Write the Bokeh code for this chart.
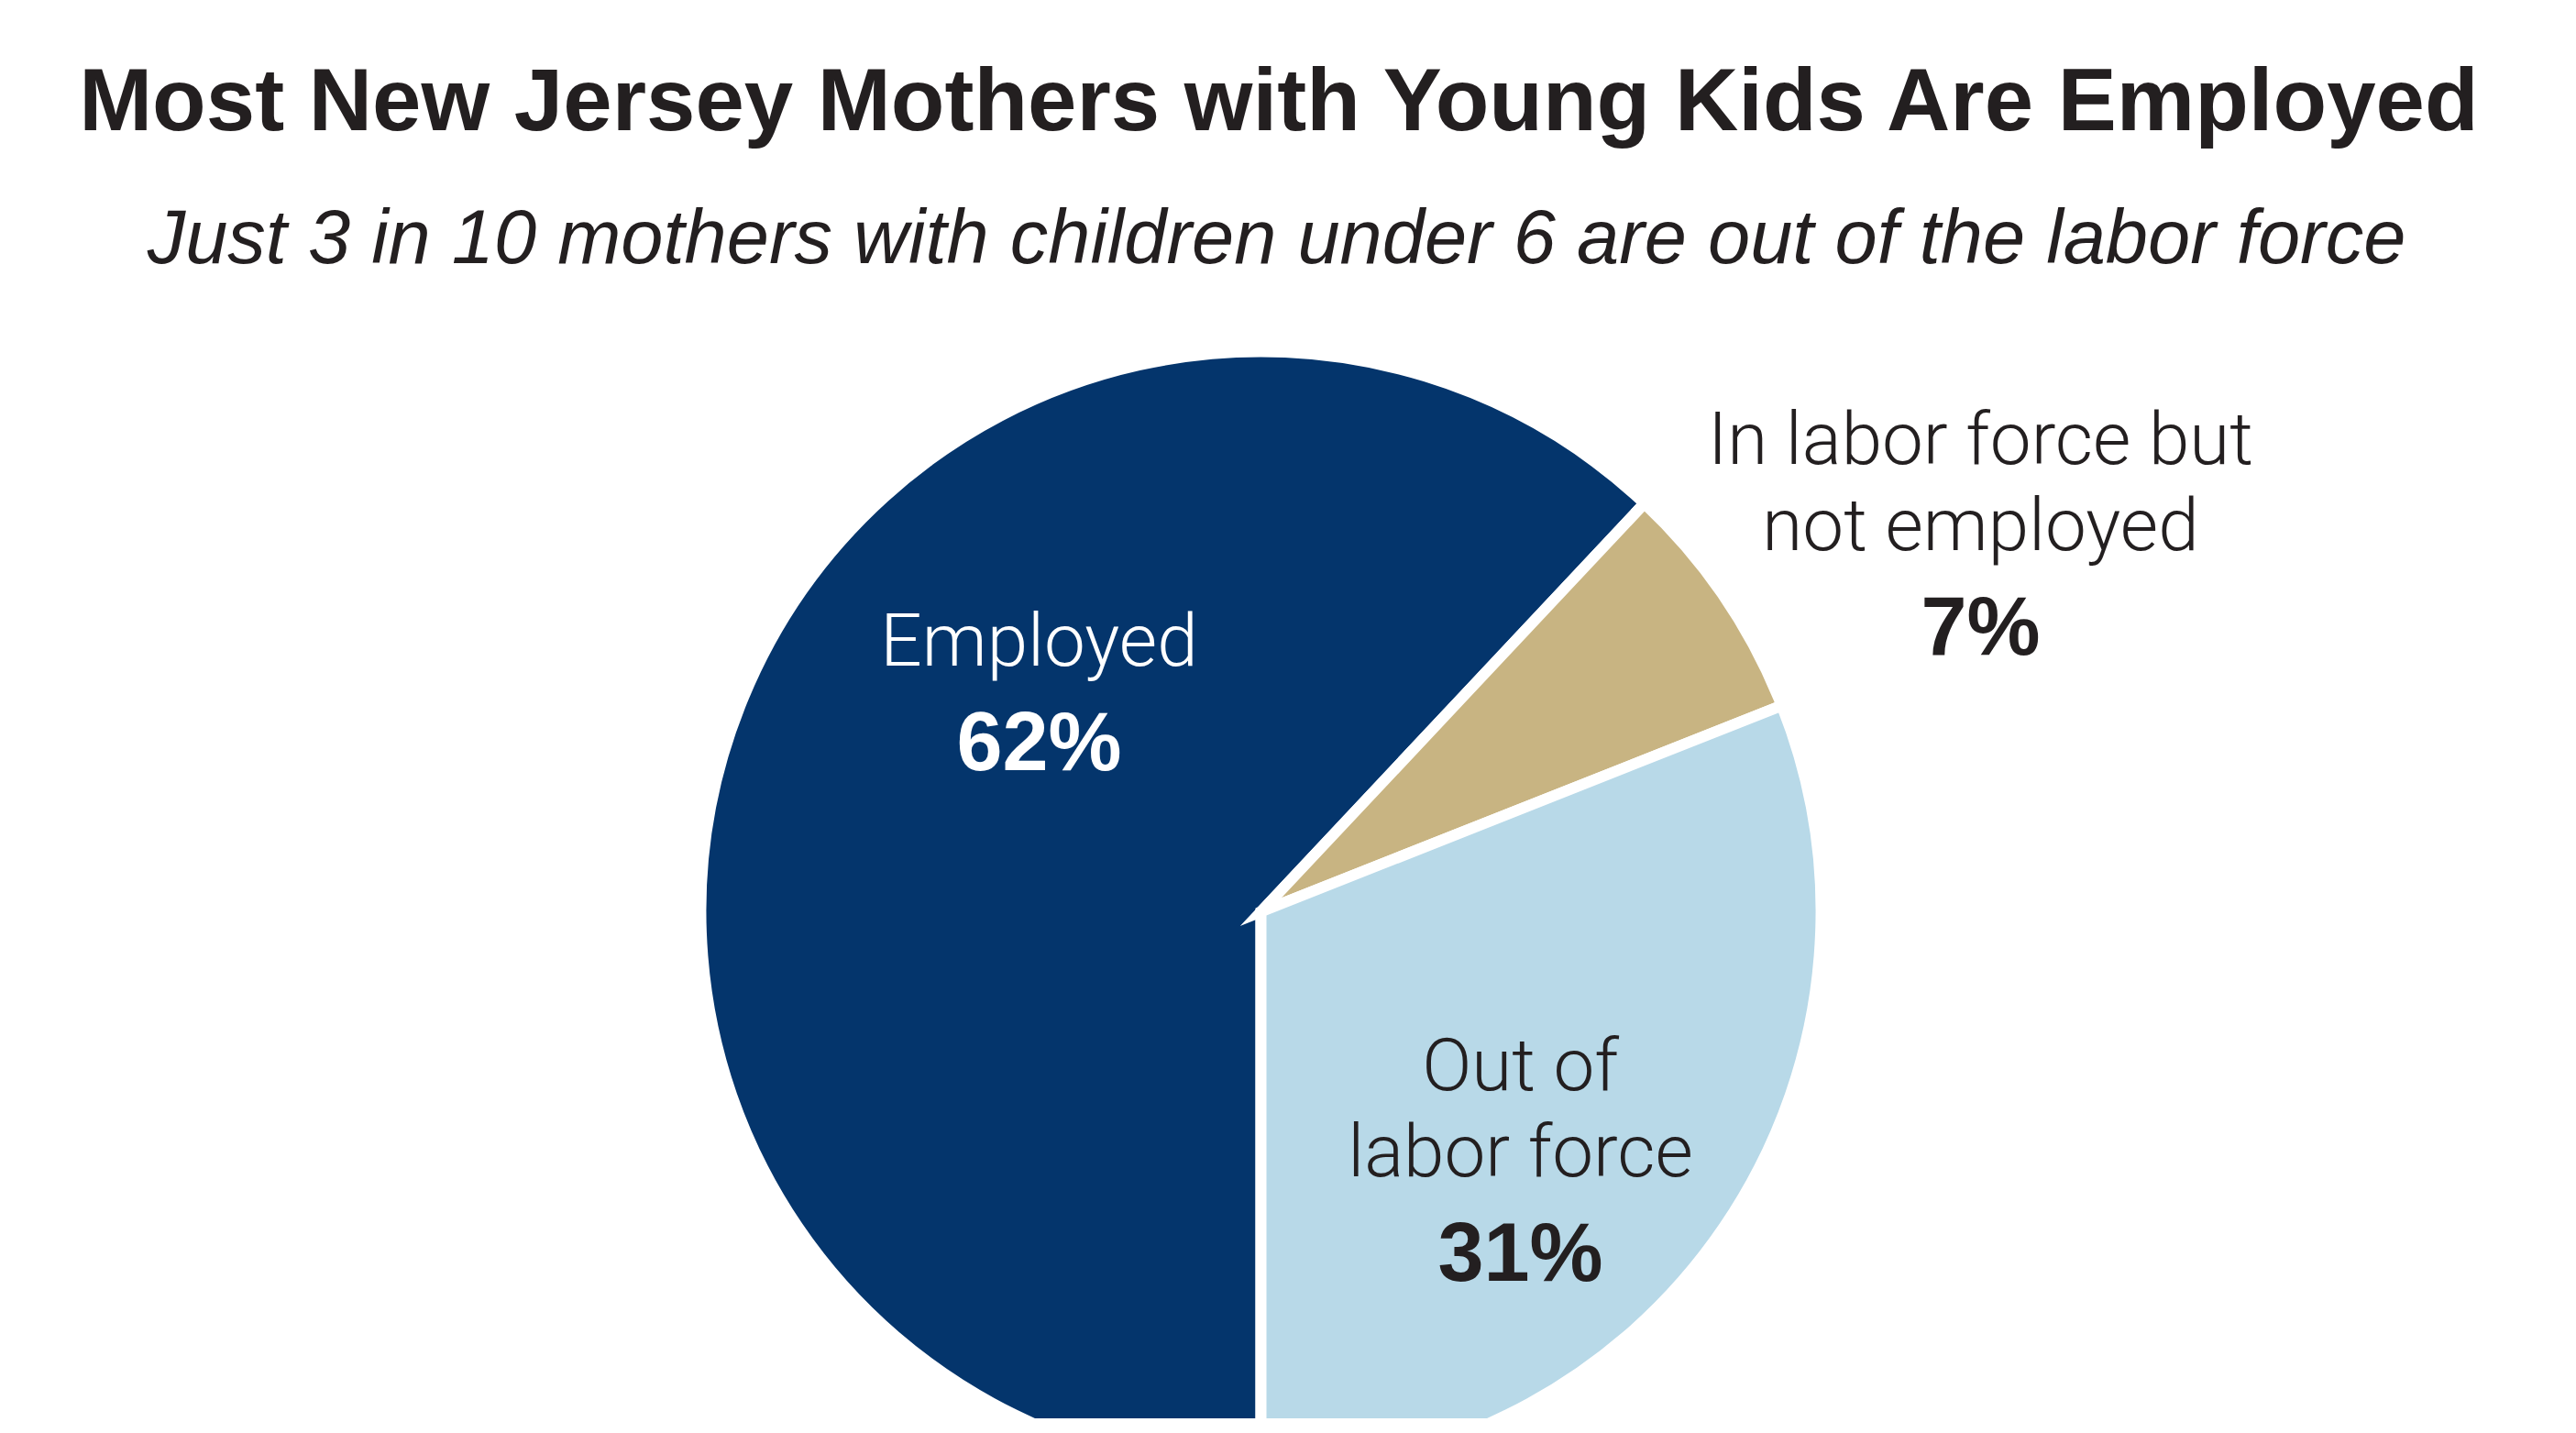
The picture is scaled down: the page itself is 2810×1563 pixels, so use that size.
import numpy as np
from bokeh.plotting import figure
from bokeh.models import ColumnDataSource, Range1d
from bokeh.core.properties import value
from bokeh.embed import file_html
from bokeh.resources import INLINE

# ---- data ----
categories = ["Employed", "In labor force but not employed", "Out of labor force"]
shares = [62, 7, 31]
pct_labels = ["62%", "7%", "31%"]
name_lines = [["Employed"], ["In labor force but", "not employed"], ["Out of", "labor force"]]
title_text = "Most New Jersey Mothers with Young Kids Are Employed"
subtitle_text = "Just 3 in 10 mothers with children under 6 are out of the labor force"

# ---- style / layout ----
colors = ["#04356C", "#C8B482", "#B8D9E8"]
text_dark = "#231F20"
W, H = 2794, 1547
TXT_SHIFT = -21  # page-pixel correction for text baseline placement


def py(img_y):
    # convert a page y coordinate (top-down) to plot data y
    return H - (img_y - 8)


def px(img_x):
    return img_x - 8


p = figure(width=W, height=H, x_range=Range1d(0, W), y_range=Range1d(0, H),
           output_backend="svg", toolbar_location=None, min_border=0,
           x_axis_location=None, y_axis_location=None)
p.grid.visible = False
p.outline_line_color = None
p.background_fill_color = "white"
p.border_fill_color = "white"

# pie
cx, cy = px(1383), py(1002)
frac = np.array(shares, dtype=float) / sum(shares)
cum = np.concatenate([[0], np.cumsum(frac)[:-1]])
start = np.deg2rad(270 - 360 * cum)
end = np.deg2rad(270 - 360 * (cum + frac))
src = ColumnDataSource(dict(cat=categories, start=start, end=end, color=colors))
p.wedge(x=cx, y=cy, radius=611, start_angle="start", end_angle="end",
        direction="clock", fill_color="color", line_color="white",
        line_width=12, line_join="miter", source=src)

# title & subtitle
p.text(x=[px(1405)], y=[py(137 + TXT_SHIFT)], text=[title_text], text_align="center",
       text_baseline="alphabetic", text_font=value("Liberation Sans"),
       text_font_style="bold", text_font_size="96px", text_color=text_dark)
p.text(x=[px(1400)], y=[py(287 + TXT_SHIFT)], text=[subtitle_text], text_align="center",
       text_baseline="alphabetic", text_font=value("Liberation Sans"),
       text_font_style="italic", text_font_size="83px", text_color=text_dark)

# slice labels
label_pos = [(1141, 727), (2168, 507), (1666, 1190)]
label_colors = ["white", text_dark, text_dark]
line_gap = 94
pct_gap = 110
lx, ly, lt, lc = [], [], [], []
bx, by, bt, bc = [], [], [], []
for (x0, y0), lines, pct, col in zip(label_pos, name_lines, pct_labels, label_colors):
    for i, ln in enumerate(lines):
        lx.append(px(x0)); ly.append(py(y0 + i * line_gap + TXT_SHIFT)); lt.append(ln); lc.append(col)
    bx.append(px(x0)); by.append(py(y0 + (len(lines) - 1) * line_gap + pct_gap + TXT_SHIFT))
    bt.append(pct); bc.append(col)

p.text(x="x", y="y", text="t", text_color="c",
       source=ColumnDataSource(dict(x=lx, y=ly, t=lt, c=lc)),
       text_align="center", text_baseline="alphabetic",
       text_font=value("Roboto Light, Liberation Sans"), text_font_size="80px")
p.text(x="x", y="y", text="t", text_color="c",
       source=ColumnDataSource(dict(x=bx, y=by, t=bt, c=bc)),
       text_align="center", text_baseline="alphabetic",
       text_font=value("Liberation Sans"), text_font_style="bold",
       text_font_size="90px")

open("out.html", "w").write(file_html(p, INLINE))
